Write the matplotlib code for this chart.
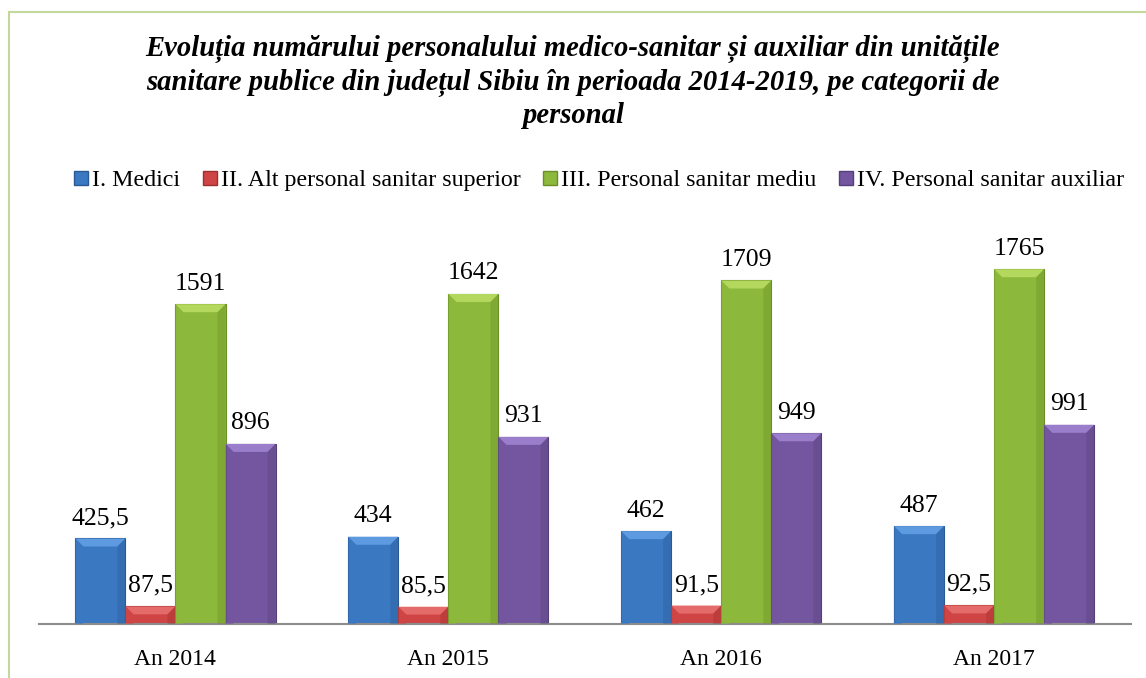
import numpy as np
import matplotlib
matplotlib.use("Agg")
import matplotlib.pyplot as plt
from matplotlib.patches import Polygon
from matplotlib.lines import Line2D

years = ["An 2014", "An 2015", "An 2016", "An 2017"]
series_names = [
    "I. Medici",
    "II. Alt personal sanitar superior",
    "III. Personal sanitar mediu",
    "IV. Personal sanitar auxiliar",
]
medici = [425.5, 434, 462, 487]
alt_superior = [87.5, 85.5, 91.5, 92.5]
sanitar_mediu = [1591, 1642, 1709, 1765]
sanitar_auxiliar = [896, 931, 949, 991]
value_labels = [
    ["425,5", "434", "462", "487"],
    ["87,5", "85,5", "91,5", "92,5"],
    ["1591", "1642", "1709", "1765"],
    ["896", "931", "949", "991"],
]

title = ("Evoluția numărului personalului medico-sanitar și auxiliar din unitățile\n"
         "sanitare publice din județul Sibiu în perioada 2014-2019, pe categorii de\n"
         "personal")

# body, top bevel, edge
colors = [
    ("#3b78c2", "#5d9ae0", "#2a5a96"),
    ("#cf4545", "#e56a6a", "#9e2f2f"),
    ("#8cb83c", "#b4d85e", "#6a8f26"),
    ("#7456a0", "#9b7ecb", "#55407a"),
]

serif = ["Liberation Serif", "DejaVu Serif"]
plt.rcParams["font.family"] = serif

fig = plt.figure(figsize=(11.46, 6.78), dpi=100)
W, H = 1146, 678
ax = fig.add_axes([39 / W, (678 - 624) / H, (1130.5 - 39) / W, (624 - 222) / H])

ymax = 2000
ax.set_xlim(-0.5, 3.5)
ax.set_ylim(0, ymax)

x = np.arange(len(years))
bw = 0.1835
data = [medici, alt_superior, sanitar_mediu, sanitar_auxiliar]

ax_h_px = 624 - 222
ax_w_px = 1130.5 - 39
py = ymax / ax_h_px          # data units per pixel (y)
px = 4.0 / ax_w_px           # data units per pixel (x)
bev = 8                      # bevel size in pixels

for i, vals in enumerate(data):
    body, top, edge = colors[i]
    bars = ax.bar(x + (i - 1.5) * bw, vals, bw, color=body, edgecolor=edge,
                  linewidth=0.8, zorder=2)
    for b, lab in zip(bars, value_labels[i]):
        x0, w, h = b.get_x(), b.get_width(), b.get_height()
        x1 = x0 + w
        d = min(bev * py, h * 0.45)
        dx = bev * px
        ax.add_patch(Polygon([(x0, h), (x1, h), (x1 - dx, h - d), (x0 + dx, h - d)],
                             closed=True, facecolor=top, edgecolor="none", zorder=3))
        ax.add_patch(Polygon([(x0, h), (x0 + dx, h - d), (x0 + dx, 0), (x0, 0)],
                             closed=True, facecolor=body, edgecolor="none",
                             alpha=0.6, zorder=3))
        ax.add_patch(Polygon([(x1, h), (x1 - dx, h - d), (x1 - dx, 0), (x1, 0)],
                             closed=True, facecolor=edge, edgecolor="none",
                             alpha=0.35, zorder=3))
        ax.text(x0 + w / 2, h + 9.5 * py, lab, ha="center", va="bottom",
                fontsize=18.5, color="black", zorder=4)

for s in ["top", "right", "left"]:
    ax.spines[s].set_visible(False)
ax.spines["bottom"].set_color("#8c8c8c")
ax.spines["bottom"].set_linewidth(1.5)
ax.set_yticks([])
ax.set_xticks(x)
ax.set_xticklabels(years, fontsize=17)
ax.tick_params(axis="x", length=0, pad=18)

fig.text(0.5, 1 - 82 / H, title, ha="center", va="center", fontsize=20.6,
         fontweight="bold", fontstyle="italic", linespacing=1.25)

handles = [Line2D([], [], marker="s", linestyle="none", markersize=10,
                  markerfacecolor=colors[i][0], markeredgecolor=colors[i][2])
           for i in range(4)]
fig.legend(handles, series_names, loc="center", bbox_to_anchor=(599 / W, 1 - 180 / H),
           ncol=4, frameon=False, fontsize=17.3, handlelength=0.6,
           handletextpad=0.15, columnspacing=0.95, borderaxespad=0)

# chart frame (top and left edges visible in the crop)
fig.add_artist(Line2D([9 / W, 1.0], [1 - 12 / H] * 2, color="#c3d89a", linewidth=1.5))
fig.add_artist(Line2D([9 / W] * 2, [0, 1 - 12 / H], color="#c3d89a", linewidth=1.5))

fig.savefig("out.png", dpi=100)
